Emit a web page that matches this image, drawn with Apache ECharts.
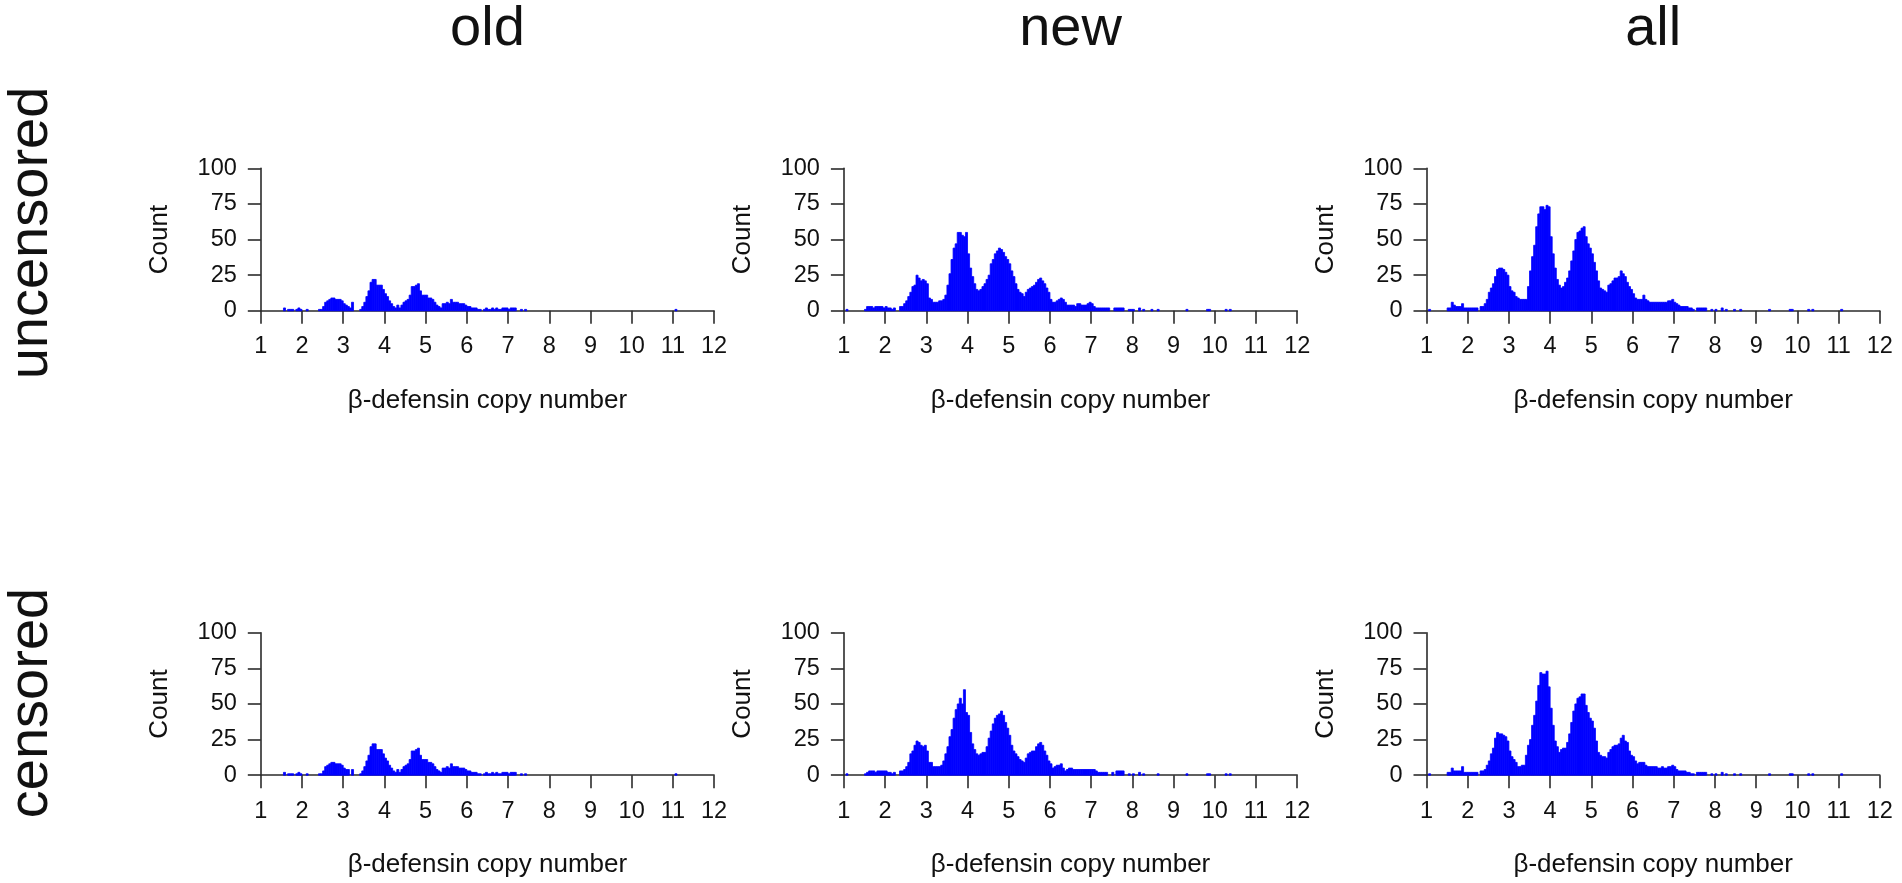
<!DOCTYPE html>
<html>
<head>
<meta charset="utf-8">
<script src="https://cdn.jsdelivr.net/npm/echarts@6/dist/echarts.min.js"></script>
<style>
html,body{margin:0;padding:0;background:#fff;}
#chart{width:1902px;height:883px;}
</style>
</head>
<body>
<div id="chart"></div>
<script>
// ---- DATA ----
const columnTitles = ['old', 'new', 'all'];
const rowTitles = ['uncensored', 'censored'];
const xTickLabels = ['1','2','3','4','5','6','7','8','9','10','11','12'];
const yTickLabels = ['0','25','50','75','100'];
const xName = 'β-defensin copy number';
const yName = 'Count';

// histogram bins: first bin starts at 1.50, each bin 0.05 wide (130 bins to 8.00)
const binStart = 1.5;
const binWidth = 0.05;

const oldUncensored = [
 0,2,0,1,1,1,0,1,2,1,
 0,0,1,0,0,0,0,0,1,1,
 3,6,7,8,9,9,8,8,8,7,
 5,4,3,2,6,0,0,0,1,3,
 6,10,14,20,22,22,18,18,18,15,
 12,10,7,5,3,2,4,2,4,6,
 7,8,11,17,17,18,19,14,11,11,
 11,9,9,8,6,4,3,2,5,5,
 6,5,8,6,6,6,5,5,5,4,
 3,3,2,2,2,1,1,0,1,2,
 1,1,2,1,2,1,1,2,2,2,
 1,2,2,2,0,0,1,0,1,0,
 0,0,0,0,0,0,0,0,0,0];
const oldUncensoredOutliers = [[11.05,1]];

const newUncensored = [
 1,3,3,3,2,3,3,3,3,2,
 3,2,2,1,2,0,0,3,3,5,
 7,10,13,17,18,25,23,21,22,21,
 19,9,8,6,6,6,7,7,8,11,
 18,26,36,44,47,55,55,53,52,55,
 40,30,24,19,15,14,15,17,19,22,
 25,33,36,40,42,44,43,41,38,36,
 33,28,24,19,15,13,12,10,13,15,
 16,17,18,20,22,23,21,19,16,13,
 8,6,6,7,8,9,8,6,4,4,
 4,4,3,5,5,4,4,4,5,6,
 5,3,2,2,2,2,2,2,2,0,
 0,2,2,2,2,2,0,0,1,1];
const newUncensoredOutliers = [[1.05,1],[8.0,1],[8.15,2],[8.25,1],[8.45,1],[8.6,1],[9.3,1],[9.8,1],[9.85,1],[10.25,1],[10.35,1]];

const allUncensored = [
 2,2,6,4,3,3,3,5,2,2,
 2,2,2,2,2,0,3,3,5,8,
 13,16,19,24,29,30,30,29,27,25,
 17,14,13,10,9,8,8,8,8,17,
 28,38,46,59,68,73,73,71,74,73,
 52,40,30,22,18,16,17,20,23,28,
 35,42,50,55,56,58,59,52,47,44,
 40,34,28,21,16,15,14,13,18,19,
 21,23,23,24,28,26,24,20,17,15,
 12,9,8,8,8,11,8,7,6,6,
 6,6,6,6,6,6,6,7,7,8,
 6,5,4,3,3,3,3,2,2,1,
 0,2,2,2,2,2,0,0,1,0];
const allUncensoredOutliers = [[1.05,1],[8.0,1],[8.15,2],[8.25,1],[8.45,1],[8.6,1],[9.3,1],[9.8,1],[9.85,1],[10.25,1],[10.35,1],[11.05,1]];

const oldCensored = [
 0,2,0,1,1,1,0,1,2,1,
 0,0,1,0,0,0,0,0,1,1,
 3,6,7,8,9,9,8,8,8,7,
 5,4,4,0,4,0,0,0,1,3,
 6,10,14,20,22,22,18,18,18,15,
 12,10,7,5,3,2,4,2,4,6,
 7,8,11,17,17,18,19,14,11,11,
 11,9,9,8,6,4,3,2,5,5,
 6,5,8,6,6,6,5,5,5,4,
 3,3,2,2,2,1,1,0,1,2,
 1,1,2,1,2,1,1,2,2,2,
 1,2,2,2,0,0,1,0,1,0,
 0,0,0,0,0,0,0,0,0,0];
const oldCensoredOutliers = [[11.05,1]];

const newCensored = [
 1,2,3,3,3,2,3,3,3,3,
 3,2,2,1,2,0,0,3,3,4,
 6,9,15,17,21,24,23,21,20,21,
 17,9,9,6,6,6,6,7,10,15,
 20,27,32,40,46,50,54,50,60,44,
 42,30,22,18,15,14,15,16,16,20,
 26,31,36,40,42,43,45,42,37,33,
 28,21,17,15,13,11,10,9,12,15,
 16,17,17,20,22,23,21,17,14,10,
 8,5,6,7,7,8,5,3,4,5,
 5,4,4,4,4,4,4,4,4,4,
 4,4,3,2,2,2,2,2,0,0,
 2,0,3,3,3,3,0,0,1,0];
const newCensoredOutliers = [[1.05,1],[8.0,1],[8.15,2],[8.25,1],[8.6,1],[9.3,1],[9.8,1],[9.85,1],[10.25,1],[10.35,1]];

const allCensored = [
 2,2,5,3,3,3,3,6,2,2,
 2,2,2,2,2,0,3,3,4,7,
 10,15,19,26,30,29,29,28,27,24,
 17,13,11,9,6,6,7,7,14,21,
 25,35,42,52,63,72,71,71,73,62,
 47,35,24,20,16,18,19,19,23,29,
 37,45,50,54,55,57,57,49,44,40,
 38,33,24,16,14,13,13,12,16,18,
 20,21,21,22,26,28,24,23,17,14,
 13,10,8,9,9,9,7,6,6,6,
 6,6,5,5,6,5,5,6,6,7,
 6,4,3,3,3,3,2,2,1,1,
 0,2,2,2,2,2,0,0,1,0];
const allCensoredOutliers = [[1.05,1],[8.0,1],[8.15,2],[8.25,1],[8.45,1],[8.6,1],[9.3,1],[9.8,1],[9.85,1],[10.25,1],[10.35,1],[11.05,1]];

// ---- LAYOUT ----
const panels = [
  {counts: oldUncensored, outliers: oldUncensoredOutliers},
  {counts: newUncensored, outliers: newUncensoredOutliers},
  {counts: allUncensored, outliers: allUncensoredOutliers},
  {counts: oldCensored, outliers: oldCensoredOutliers},
  {counts: newCensored, outliers: newCensoredOutliers},
  {counts: allCensored, outliers: allCensoredOutliers}
];
const colLefts = [260.8, 843.9, 1426.5];
const gridWidth = 453.3;
const rowTops = [168.3, 632.7];
const gridHeight = 142.5;

const FONT = 'Liberation Sans, Arial, sans-serif';
const TXT = '#111111';
const AX = '#2b2b2b';
const BLUE = '#0000ff';

function buildData(p) {
  const d = [];
  p.counts.forEach((c, i) => {
    if (c > 0) {
      const x0 = +(binStart + i * binWidth).toFixed(4);
      d.push([x0, +(x0 + binWidth).toFixed(4), c]);
    }
  });
  p.outliers.forEach(o => d.push([o[0], +(o[0] + binWidth).toFixed(4), o[1]]));
  return d;
}

const grids = [], xAxes = [], yAxes = [], series = [];
panels.forEach((p, k) => {
  const r = Math.floor(k / 3), c = k % 3;
  grids.push({left: colLefts[c], top: rowTops[r], width: gridWidth, height: gridHeight, containLabel: false});
  xAxes.push({
    gridIndex: k, type: 'value', min: 1, max: 12, interval: 1,
    name: xName, nameLocation: 'middle', nameGap: 77,
    nameTextStyle: {fontFamily: FONT, fontSize: 26, color: TXT},
    axisLine: {show: true, lineStyle: {color: AX, width: 1.6}},
    axisTick: {show: true, length: 13, lineStyle: {color: AX, width: 1.6}},
    axisLabel: {show: true, margin: 24, fontFamily: FONT, fontSize: 23.5, color: TXT,
      formatter: v => xTickLabels[Math.round(v) - 1]},
    splitLine: {show: false}
  });
  yAxes.push({
    gridIndex: k, type: 'value', min: 0, max: 100, interval: 25,
    name: yName, nameLocation: 'middle', nameGap: 88, nameRotate: 90,
    nameTextStyle: {fontFamily: FONT, fontSize: 26, color: TXT},
    axisLine: {show: true, lineStyle: {color: AX, width: 1.6}},
    axisTick: {show: true, length: 13, lineStyle: {color: AX, width: 1.6}},
    axisLabel: {show: true, margin: 24, fontFamily: FONT, fontSize: 23.5, color: TXT,
      formatter: v => yTickLabels[Math.round(v / 25)]},
    splitLine: {show: false}
  });
  series.push({
    type: 'custom', xAxisIndex: k, yAxisIndex: k,
    data: buildData(p),
    encode: {x: [0, 1], y: 2},
    renderItem: function (params, api) {
      const top = api.coord([api.value(0), api.value(2)]);
      const bot = api.coord([api.value(1), 0]);
      return {
        type: 'rect',
        shape: {x: top[0], y: top[1], width: bot[0] - top[0], height: bot[1] - top[1]},
        style: {fill: BLUE, stroke: BLUE, lineWidth: 0.8}
      };
    },
    z: 1
  });
});

const graphics = [];
columnTitles.forEach((t, c) => {
  graphics.push({type: 'text', x: colLefts[c] + gridWidth / 2, y: 30,
    style: {text: t, fontFamily: FONT, fontSize: 56, fill: TXT, align: 'center', verticalAlign: 'middle'}});
});
const rowCenters = [233, 703];
rowTitles.forEach((t, r) => {
  graphics.push({type: 'text', x: 32, y: rowCenters[r], rotation: Math.PI / 2,
    style: {text: t, fontFamily: FONT, fontSize: 56, fill: TXT, align: 'center', verticalAlign: 'middle'}});
});

const chart = echarts.init(document.getElementById('chart'), null, {renderer: 'canvas'});
chart.setOption({
  backgroundColor: '#ffffff',
  animation: false,
  grid: grids, xAxis: xAxes, yAxis: yAxes, series: series,
  graphic: graphics
});
</script>
</body>
</html>
